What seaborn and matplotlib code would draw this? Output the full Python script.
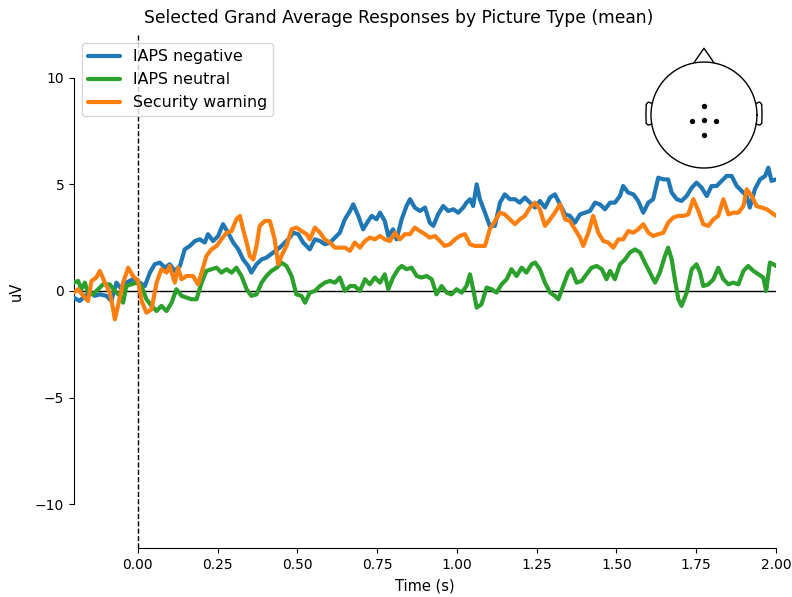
import numpy as np
import pandas as pd
import matplotlib
matplotlib.use("Agg")
import matplotlib.pyplot as plt
import seaborn as sns

# ---------------- data ----------------
conditions = ["IAPS negative", "IAPS neutral", "Security warning"]
colors = ["#1f77b4", "#2ca02c", "#ff7f0e"]

neg_t = [-0.201, -0.182, -0.166, -0.150, -0.135, -0.119, -0.098, -0.083, -0.067, -0.051, -0.036, -0.015,
         0.006, 0.022, 0.038, 0.053, 0.069, 0.085, 0.100, 0.116, 0.132, 0.147, 0.163, 0.179, 0.194, 0.210,
         0.220, 0.236, 0.252, 0.267, 0.283, 0.299, 0.315, 0.330, 0.346, 0.356, 0.372, 0.388, 0.403, 0.424,
         0.445, 0.461, 0.476, 0.487, 0.503, 0.518, 0.539,
         0.555, 0.571, 0.586, 0.602, 0.618, 0.633, 0.649, 0.665, 0.675, 0.691, 0.706, 0.722, 0.733, 0.748,
         0.759, 0.774, 0.785, 0.800, 0.811, 0.827, 0.842, 0.853, 0.868, 0.884, 0.900, 0.915, 0.926, 0.941,
         0.957, 0.973, 0.989, 1.004, 1.020, 1.030, 1.041, 1.051, 1.062, 1.072, 1.088, 1.103, 1.119, 1.135,
         1.150, 1.166, 1.182, 1.197, 1.213, 1.229, 1.245, 1.260, 1.276, 1.292,
         1.307, 1.323, 1.339, 1.354, 1.370, 1.386, 1.401, 1.417, 1.433, 1.448, 1.464, 1.480, 1.495, 1.511,
         1.521, 1.537, 1.553, 1.568, 1.584, 1.600, 1.615, 1.631, 1.647, 1.662, 1.673, 1.689, 1.704, 1.720,
         1.736, 1.751, 1.767, 1.783, 1.798, 1.814, 1.830, 1.845, 1.861, 1.877, 1.892, 1.908, 1.918, 1.934,
         1.950, 1.966, 1.976, 1.986, 2.000]
neg_v = [-0.31, -0.47, -0.23, -0.08, -0.23, -0.16, -0.23, -0.47, 0.39, 0.08, 0.39, 0.55,
         0.39, 0.23, 0.86, 1.25, 1.33, 1.09, 1.25, 0.94, 1.17, 1.95, 2.11, 2.34, 2.42, 2.27,
         2.66, 2.34, 2.58, 3.13, 2.73, 2.27, 1.95, 1.48, 1.17, 0.86, 1.25, 1.48, 1.56, 1.80,
         2.03, 2.27, 2.50, 2.73, 2.66, 2.27, 1.95,
         2.42, 2.34, 2.19, 2.27, 2.50, 2.73, 3.36, 3.75, 4.06, 3.52, 2.89, 3.28, 3.52, 3.36,
         3.67, 3.28, 2.58, 2.89, 2.42, 3.36, 3.98, 4.30, 3.91, 3.75, 3.91, 3.20, 3.05, 3.59,
         3.98, 3.75, 3.83, 3.67, 3.91, 4.14, 4.30, 3.98, 5.00, 4.30, 3.67, 3.05, 3.05, 4.14,
         4.53, 4.30, 4.30, 4.14, 4.38, 4.14, 3.91, 4.22, 3.91, 4.38,
         4.53, 4.06, 3.59, 3.52, 3.20, 3.59, 3.67, 3.75, 4.14, 4.06, 3.83, 4.14, 4.14, 4.45,
         4.92, 4.61, 4.53, 4.22, 3.67, 4.14, 4.30, 5.31, 5.23, 5.23, 4.61, 4.30, 4.22, 4.45,
         4.84, 5.08, 4.84, 4.45, 4.92, 4.92, 5.16, 5.39, 5.39, 4.92, 4.69, 4.45, 3.91, 4.77,
         5.23, 5.39, 5.78, 5.16, 5.23]

neu_t = [-0.201, -0.187, -0.177, -0.166, -0.156, -0.140, -0.124, -0.109, -0.088, -0.072, -0.056, -0.046,
         -0.036, -0.020, -0.004, 0.012, 0.027, 0.043, 0.059, 0.074, 0.090, 0.106, 0.121, 0.137, 0.153,
         0.168, 0.184, 0.200, 0.215, 0.231, 0.247, 0.262, 0.278, 0.294, 0.309, 0.325, 0.341, 0.356, 0.372,
         0.388, 0.403, 0.419, 0.435, 0.450, 0.466, 0.482, 0.497, 0.513,
         0.524, 0.539, 0.555, 0.571, 0.586, 0.602, 0.618, 0.633, 0.649, 0.665, 0.680, 0.696, 0.712, 0.727,
         0.743, 0.759, 0.774, 0.785, 0.800, 0.816, 0.827, 0.842, 0.858, 0.874, 0.889, 0.905, 0.921, 0.936,
         0.952, 0.968, 0.983, 0.999, 1.015, 1.030, 1.041, 1.051, 1.062, 1.077, 1.093, 1.109, 1.124, 1.140,
         1.156, 1.171, 1.187, 1.203, 1.218, 1.234, 1.245,
         1.260, 1.276, 1.292, 1.307, 1.318, 1.333, 1.349, 1.359, 1.375, 1.391, 1.406, 1.422, 1.438, 1.454,
         1.469, 1.480, 1.495, 1.511, 1.527, 1.542, 1.558, 1.574, 1.589, 1.605, 1.621, 1.636, 1.652, 1.662,
         1.673, 1.683, 1.694, 1.704, 1.720, 1.736, 1.751, 1.762, 1.772, 1.788, 1.804, 1.819, 1.835, 1.851,
         1.866, 1.882, 1.898, 1.913, 1.929, 1.945, 1.960, 1.969, 1.981, 1.992, 2.000]
neu_v = [0.39, 0.47, 0.08, 0.39, -0.08, -0.16, 0.08, 0.31, 0.31, 0.00, -0.23, -0.55,
         0.23, 0.31, 0.39, 0.23, -0.39, -0.70, -0.94, -0.70, -0.94, -0.55, 0.08, -0.23, -0.31,
         -0.39, -0.39, 0.39, 0.94, 1.02, 1.09, 0.86, 1.02, 0.86, 1.09, 0.70, 0.08, -0.23, -0.16,
         0.39, 0.70, 0.94, 1.09, 1.33, 1.17, 0.70, -0.16, -0.23,
         -0.55, -0.08, 0.00, 0.23, 0.39, 0.47, 0.39, 0.63, 0.00, 0.23, 0.23, 0.00, 0.55, 0.31,
         0.63, 0.39, 0.78, 0.08, 0.63, 1.02, 1.17, 1.02, 1.09, 0.70, 0.63, 0.70, 0.55, -0.16,
         0.23, -0.08, -0.16, 0.08, -0.08, 0.23, 0.78, 0.08, -0.78, -0.63, 0.16, 0.08, -0.08, 0.31,
         0.55, 1.02, 0.70, 1.09, 0.86, 1.25, 1.33,
         1.02, 0.39, -0.08, -0.23, -0.39, 0.23, 0.86, 1.02, 0.39, 0.47, 0.78, 1.09, 1.17, 1.02,
         0.55, 0.94, 0.55, 1.25, 1.48, 1.80, 1.95, 1.80, 1.33, 0.86, 0.39, 0.86, 1.64, 2.03,
         1.48, 0.55, -0.39, -0.70, -0.08, 1.02, 1.25, 0.86, 0.23, 0.31, 0.55, 1.09, 0.55, 0.31,
         0.39, 0.31, 0.94, 1.17, 0.94, 0.78, 0.63, 0.00, 1.33, 1.25, 1.17]

sec_t = [-0.201, -0.187, -0.171, -0.156, -0.145, -0.130, -0.119, -0.103, -0.088, -0.077, -0.072, -0.062,
         -0.046, -0.030, -0.015, 0.001, 0.012, 0.027, 0.043, 0.059, 0.074, 0.090, 0.100, 0.116, 0.126,
         0.137, 0.153, 0.173, 0.189, 0.200, 0.215, 0.231, 0.247, 0.262, 0.278, 0.294, 0.309, 0.320, 0.330,
         0.341, 0.351, 0.362, 0.372, 0.382, 0.398, 0.414, 0.429, 0.440, 0.450, 0.466, 0.482, 0.497, 0.513,
         0.529, 0.539,
         0.555, 0.571, 0.586, 0.602, 0.618, 0.633, 0.649, 0.665, 0.680, 0.696, 0.712, 0.727, 0.743, 0.759,
         0.774, 0.790, 0.806, 0.821, 0.837, 0.853, 0.868, 0.884, 0.900, 0.915, 0.931, 0.947, 0.962, 0.978,
         0.994, 1.009, 1.025, 1.041, 1.056, 1.072, 1.088, 1.103, 1.119, 1.135, 1.150, 1.166, 1.182, 1.197,
         1.213, 1.229, 1.245,
         1.260, 1.276, 1.292, 1.307, 1.323, 1.339, 1.354, 1.370, 1.386, 1.396, 1.412, 1.427, 1.443, 1.459,
         1.474, 1.490, 1.506, 1.521, 1.537, 1.553, 1.568, 1.584, 1.600, 1.615, 1.631, 1.647, 1.662, 1.678,
         1.694, 1.710, 1.725, 1.741, 1.757, 1.772, 1.788, 1.804, 1.819, 1.835, 1.851, 1.866, 1.882, 1.898,
         1.908, 1.924, 1.939, 1.955, 1.971, 1.986, 2.000]
sec_v = [-0.08, 0.08, -0.23, -0.47, 0.47, 0.63, 0.94, 0.39, -0.08, -0.86, -1.33, -0.70,
         0.39, 1.09, 0.70, 0.47, -0.47, -1.02, -0.86, 0.39, 1.02, 0.86, 1.17, 0.39, 1.09,
         0.55, 0.70, 0.70, 0.31, 0.86, 1.64, 1.95, 2.11, 2.42, 2.73, 2.81, 3.36, 3.52, 2.89,
         2.27, 1.64, 1.48, 2.11, 3.05, 3.28, 3.28, 2.42, 1.25, 1.64, 2.11, 2.89, 2.97, 2.81,
         2.66, 2.42,
         2.97, 2.73, 2.42, 2.27, 2.03, 2.03, 2.03, 1.88, 2.27, 2.03, 2.34, 2.50, 2.42, 2.58,
         2.42, 2.34, 2.73, 2.42, 2.66, 2.66, 2.97, 2.81, 2.66, 2.50, 2.58, 2.34, 2.11, 2.19,
         2.42, 2.58, 2.66, 2.19, 2.11, 2.11, 2.11, 2.89, 3.28, 3.67, 3.59, 3.36, 3.13, 3.36,
         3.52, 3.91, 4.14,
         3.83, 3.05, 3.36, 3.67, 4.06, 3.36, 3.28, 2.89, 2.50, 2.11, 2.73, 3.52, 2.73, 2.34,
         2.27, 2.03, 2.42, 2.42, 2.81, 2.73, 2.89, 3.13, 2.73, 2.58, 2.66, 2.73, 3.20, 3.44,
         3.52, 3.52, 3.59, 4.30, 3.75, 3.13, 3.05, 3.36, 3.52, 4.30, 3.59, 3.67, 3.67, 3.98,
         4.77, 4.45, 3.98, 3.91, 3.83, 3.67, 3.52]

x_ticks = [0.0, 0.25, 0.5, 0.75, 1.0, 1.25, 1.5, 1.75, 2.0]
y_ticks = [-10, -5, 0, 5, 10]

# sensor positions on the head inset (head radius = 1)
sensor_x = [0.0, -0.226, 0.0, 0.226, 0.0]
sensor_y = [0.17, -0.11, -0.094, -0.11, -0.377]

# ---------------- figure ----------------
sns.set_style("ticks")
plt.rcParams["font.family"] = ["DejaVu Sans"]
plt.rcParams["text.color"] = "black"
plt.rcParams["axes.labelcolor"] = "black"
plt.rcParams["xtick.color"] = "black"
plt.rcParams["ytick.color"] = "black"

df = pd.concat([
    pd.DataFrame({"Time (s)": neg_t, "uV": neg_v, "condition": conditions[0]}),
    pd.DataFrame({"Time (s)": neu_t, "uV": neu_v, "condition": conditions[1]}),
    pd.DataFrame({"Time (s)": sec_t, "uV": sec_v, "condition": conditions[2]}),
], ignore_index=True)

fig = plt.figure(figsize=(7.92, 5.97), dpi=100)
ax = fig.add_axes([0.0934, 0.0821, 0.8864, 0.8593])

ax.axhline(0, color="black", lw=1, zorder=1)
ax.axvline(0, color="black", lw=1, ls="--", zorder=1)

sns.lineplot(data=df, x="Time (s)", y="uV", hue="condition", hue_order=conditions,
             palette=colors, linewidth=3, estimator=None, sort=False, ax=ax, zorder=3)

ax.set_xlim(-0.2, 2.0)
ax.set_ylim(-12.05, 12.0)
ax.set_xticks(x_ticks)
ax.set_xticklabels([f"{v:.2f}" for v in x_ticks])
ax.set_yticks(y_ticks)
ax.set_yticklabels([f"{v}" if v >= 0 else f"\u2212{abs(v)}" for v in y_ticks])
ax.tick_params(labelsize=10, length=3.5, width=0.8, colors="black")
ax.set_xlabel("Time (s)", fontsize=10.5, labelpad=5, color="black")
ax.set_ylabel("uV", fontsize=10.5, labelpad=8, color="black")
fig.text(399 / 792, 1 - 18 / 597, "Selected Grand Average Responses by Picture Type (mean)",
         fontsize=12.3, ha="center", va="center", color="black")

for s in ["top", "right"]:
    ax.spines[s].set_visible(False)
ax.spines["left"].set_bounds(-10, 10)
ax.spines["bottom"].set_bounds(0, 2)
ax.spines["left"].set_color("black")
ax.spines["bottom"].set_color("black")

handles, labels = ax.get_legend_handles_labels()
leg = ax.legend(handles, labels, loc="upper left", fontsize=11.4, frameon=True)
for h in leg.get_lines():
    h.set_linewidth(3)
for t in leg.get_texts():
    t.set_color("black")

# head inset
hax = fig.add_axes([0.8052, 0.7008, 0.1673, 0.2264])
hax.set_xlim(-1.25, 1.25)
hax.set_ylim(-1.2, 1.35)
hax.set_aspect("equal")
hax.axis("off")
th = np.linspace(0, 2 * np.pi, 200)
hax.plot(np.cos(th), np.sin(th), color="black", lw=1)
hax.plot([-0.19, 0.0, 0.19], [0.985, 1.26, 0.985], color="black", lw=1)
ear_x = np.array([0.98, 1.05, 1.09, 1.095, 1.09, 1.05, 0.98])
ear_y = np.array([0.22, 0.245, 0.20, 0.0, -0.16, -0.19, -0.17])
hax.plot(ear_x, ear_y, color="black", lw=1)
hax.plot(-ear_x, ear_y, color="black", lw=1)
hax.scatter(sensor_x, sensor_y, s=8, color="black", zorder=3)

fig.savefig("out.png", dpi=100)
